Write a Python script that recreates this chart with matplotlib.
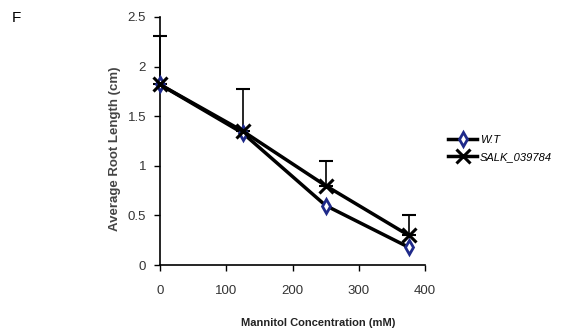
import matplotlib
matplotlib.use('Agg')
import matplotlib.pyplot as plt

# data
mannitol = [0, 125, 250, 375]
wt_length = [1.82, 1.33, 0.60, 0.18]
salk_length = [1.82, 1.35, 0.80, 0.30]
salk_err = [0.49, 0.42, 0.25, 0.20]
xticks = [0, 100, 200, 300, 400]
yticks = [0, 0.5, 1, 1.5, 2, 2.5]

plt.rcParams['font.family'] = ['Liberation Sans Narrow', 'Liberation Sans', 'DejaVu Sans']

fig = plt.figure(figsize=(5.73, 3.33), dpi=100)
ax = fig.add_axes([0.279, 0.204, 0.463, 0.745])

ax.errorbar(mannitol, salk_length, yerr=[[0] * 4, salk_err], fmt='none',
            ecolor='black', elinewidth=1.2, capsize=5, capthick=1.5,
            zorder=1, clip_on=False)
ax.plot(mannitol, wt_length, color='black', lw=2.5, marker='d', ms=7,
        mfc='white', mec='#1f2a8a', mew=2, label='W.T', zorder=3, clip_on=False)
ax.plot(mannitol, salk_length, color='black', lw=2.5, marker='x', ms=10,
        mew=2.2, mec='black', label='SALK_039784', zorder=4, clip_on=False)

ax.set_xlim(0, 400)
ax.set_ylim(0, 2.5)
ax.set_xticks(xticks)
ax.set_yticks(yticks)
ax.set_yticklabels(['0', '0.5', '1', '1.5', '2', '2.5'])
ax.tick_params(labelsize=9.5, labelcolor='#333333', direction='out', length=4, width=1)
ax.tick_params(axis='x', pad=10)
ax.tick_params(axis='y', pad=6)
for s in ['top', 'right']:
    ax.spines[s].set_visible(False)
for s in ['left', 'bottom']:
    ax.spines[s].set_linewidth(1.2)

ax.set_xlabel('Mannitol Concentration (mM)', fontsize=8, fontweight='bold', color='#222222')
ax.xaxis.set_label_coords(0.596, -0.215)
ax.set_ylabel('Average Root Length (cm)', fontsize=9.5, fontweight='bold', color='#444444')
ax.yaxis.set_label_coords(-0.145, 0.47)

leg = ax.legend(loc='center left', bbox_to_anchor=(1.05, 0.47), frameon=False,
                handlelength=2.6, handletextpad=0.2, labelspacing=0.6,
                prop={'style': 'italic', 'size': 8})

fig.text(0.02, 0.935, 'F', fontsize=11)

fig.savefig('out.png', dpi=100)
